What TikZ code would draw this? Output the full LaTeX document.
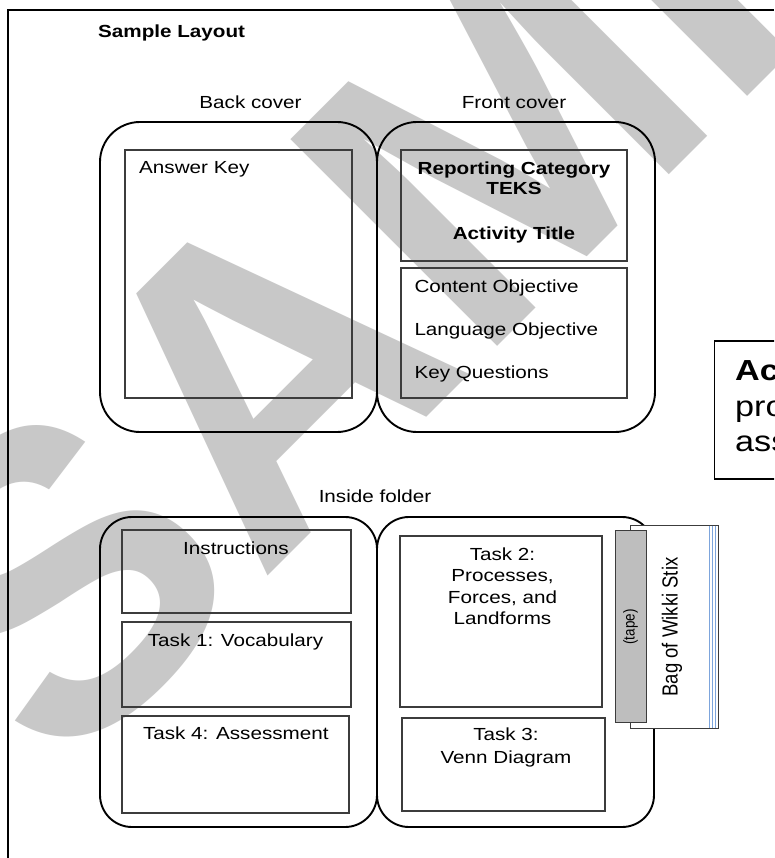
\documentclass[tikz,border=0pt]{standalone}
\usepackage{fontspec}
\setmainfont{Liberation Sans}
\definecolor{wm}{RGB}{200,200,200}
\definecolor{boxline}{RGB}{60,60,60}
\definecolor{tapefill}{RGB}{190,190,190}
\definecolor{bagblue}{RGB}{125,165,220}
\newcommand{\hs}[1]{\scalebox{1.18}[1]{#1}}
\newcommand{\vsx}[1]{\scalebox{1}[1.18]{#1}}
\begin{document}
\begin{tikzpicture}[x=1pt,y=-1pt,
  cover/.style={draw=black, line width=1.9pt, rounded corners=40pt},
  folder/.style={draw=black, line width=1.9pt, rounded corners=32pt},
  panel/.style={draw=boxline, line width=1.1pt},
  lbl/.style={inner sep=0pt, font=\fontsize{17.5}{21}\selectfont},
  blbl/.style={inner sep=0pt, font=\fontsize{17.5}{21}\selectfont\bfseries},
  big/.style={inner sep=0pt, font=\fontsize{29}{34}\selectfont},
]
\useasboundingbox (0,0) rectangle (774,858);
\clip (0,0) rectangle (774,858);
\fill[white] (0,0) rectangle (774,858);
% watermark
\node[rotate=45, anchor=base west, inner sep=0pt, text=wm,
      font=\fontsize{425}{425}\selectfont\bfseries] (wmark) at (60,784) {SAMPLE};
% frame
\draw[line width=1.8pt] (8,858) -- (8,10) -- (774,10);
\node[blbl, anchor=base west] (title) at (98,37.7) {\hs{Sample Layout}};
% covers
\node[lbl, anchor=base] (backlbl) at (250.5,109) {\hs{Back cover}};
\node[lbl, anchor=base] (frontlbl) at (514,108.5) {\hs{Front cover}};
\draw[cover] (100,122) rectangle (377,432);
\draw[cover] (377,122) rectangle (655,432);
\draw[panel] (125,150) rectangle (352,398);
\draw[panel] (401,150) rectangle (627,261);
\draw[panel] (401,268) rectangle (627,398);
\node[lbl, anchor=base west] (ans) at (139,174) {\hs{Answer Key}};
\node[blbl, anchor=base] (rep) at (514,175) {\hs{Reporting Category}};
\node[blbl, anchor=base] (teks) at (514,195) {\hs{TEKS}};
\node[blbl, anchor=base] (act) at (514,240) {\hs{Activity Title}};
\node[lbl, anchor=base west] (cobj) at (414.3,292.3) {\hs{Content Objective}};
\node[lbl, anchor=base west] (lobj) at (414.3,335.3) {\hs{Language Objective}};
\node[lbl, anchor=base west] (keyq) at (414.3,378.3) {\hs{Key Questions}};
% right box (cut off)
\draw[line width=1.1pt] (714.5,341) rectangle (800,479);
\node[big, anchor=base west, font=\fontsize{29}{34}\selectfont\bfseries] (ac) at (735,380) {\hs{Ac}};
\node[big, anchor=base west] (pro) at (735,416.7) {\hs{pro}};
\node[big, anchor=base west] (ass) at (735,451.7) {\hs{ass}};
% inside folder
\node[lbl, anchor=base] (inlbl) at (375,502) {\hs{Inside folder}};
\draw[folder] (100,517) rectangle (377,827);
\draw[folder] (377,517) rectangle (654,827);
\draw[panel] (122,530) rectangle (351,613);
\draw[panel] (122,622) rectangle (351,707);
\draw[panel] (122,716) rectangle (349,813);
\draw[panel] (400,536) rectangle (602,707);
\draw[panel] (402,718) rectangle (605,811);
\node[lbl, anchor=base] (instr) at (236,554) {\hs{Instructions}};
\node[lbl, anchor=base] (t1) at (235.5,646) {\hs{Task 1: Vocabulary}};
\node[lbl, anchor=base] (t4) at (235.8,739.3) {\hs{Task 4: Assessment}};
\node[lbl, anchor=base] (t2a) at (502.5,560) {\hs{Task 2:}};
\node[lbl, anchor=base] (t2b) at (502.5,581.7) {\hs{Processes,}};
\node[lbl, anchor=base] (t2c) at (502.5,603.3) {\hs{Forces, and}};
\node[lbl, anchor=base] (t2d) at (502.5,624) {\hs{Landforms}};
\node[lbl, anchor=base] (t3a) at (506,740) {\hs{Task 3:}};
\node[lbl, anchor=base] (t3b) at (506,763) {\hs{Venn Diagram}};
% bag and tape
\draw[fill=white, draw=boxline, line width=0.9pt] (630,525) rectangle (718.5,728.5);
\foreach \bx in {709,712,715}
  \draw[bagblue, line width=0.9pt] (\bx,525.5) -- (\bx,728);
\draw[fill=tapefill, draw=boxline, line width=1pt] (615,530) rectangle (646,722);
\node[inner sep=0pt, rotate=90, font=\fontsize{13.4}{16}\selectfont] (tape) at (630.5,627) {\vsx{(tape)}};
\node[inner sep=0pt, rotate=90, font=\fontsize{18.5}{22}\selectfont] (bag) at (672,627) {\vsx{Bag of Wikki Stix}};
\end{tikzpicture}
\end{document}
